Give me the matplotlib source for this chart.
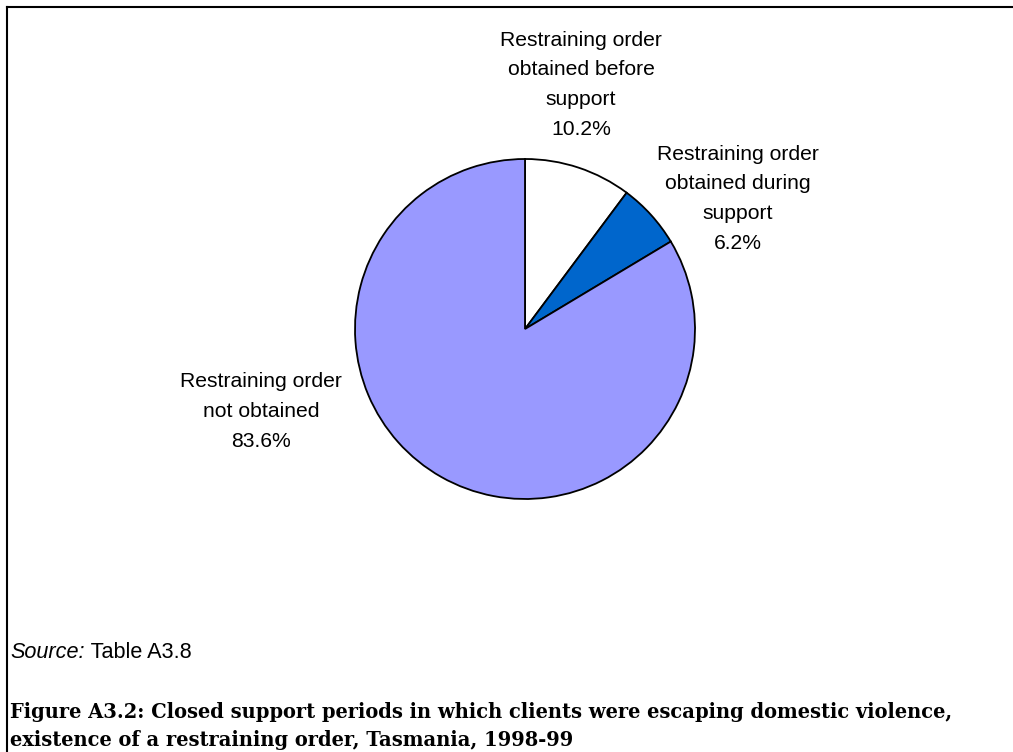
import matplotlib.pyplot as plt
from matplotlib.lines import Line2D

categories = ['Restraining order\nobtained before\nsupport',
              'Restraining order\nobtained during\nsupport',
              'Restraining order\nnot obtained']
shares = [10.2, 6.2, 83.6]
colors = ['#FFFFFF', '#0066CC', '#9999FF']

W, H = 1013, 752
fig = plt.figure(figsize=(W / 100, H / 100), dpi=100)

# frame lines (left + top)
fig.add_artist(Line2D([7 / W, 7 / W], [0, 1 - 7 / H], color='black', lw=1.5))
fig.add_artist(Line2D([7 / W, 1], [1 - 7 / H, 1 - 7 / H], color='black', lw=1.5))

# pie: centre (525, 329) px, radius 170 px
cx, cy, r = 525, 329, 170
ax = fig.add_axes([(cx - r) / W, 1 - (cy + r) / H, 2 * r / W, 2 * r / H])
ax.pie(shares, colors=colors, startangle=90, counterclock=False,
       wedgeprops=dict(edgecolor='black', linewidth=1.3))
ax.set_xlim(-1, 1)
ax.set_ylim(-1, 1)
ax.set_aspect('equal')

# label positions in pie data units
label_pos = [(0.33, 1.438), (1.253, 0.767), (-1.553, -0.485)]
for lab, val, (x, y) in zip(categories, shares, label_pos):
    ax.text(x, y, f'{lab}\n{val:.1f}%', ha='center', va='center',
            family='Liberation Sans', fontsize=15.2, linespacing=1.71,
            clip_on=False)

# source line
t1 = fig.text(10 / W, 1 - 652 / H, 'Source:', family='Liberation Sans',
              style='italic', fontsize=15.6, va='center')
fig.canvas.draw()
bb = t1.get_window_extent()
fig.text(bb.x1 / W, 1 - 652 / H, ' Table A3.8', family='Liberation Sans',
         fontsize=15.6, va='center')

# caption
cap1 = 'Figure A3.2: Closed support periods in which clients were escaping domestic violence,'
cap2 = 'existence of a restraining order, Tasmania, 1998-99'
fig.text(10 / W, 1 - 712 / H, cap1, family='DejaVu Serif', weight='bold',
         fontsize=14.05, va='center')
fig.text(10 / W, 1 - 740 / H, cap2, family='DejaVu Serif', weight='bold',
         fontsize=14.05, va='center')

fig.savefig('out.png', dpi=100)
